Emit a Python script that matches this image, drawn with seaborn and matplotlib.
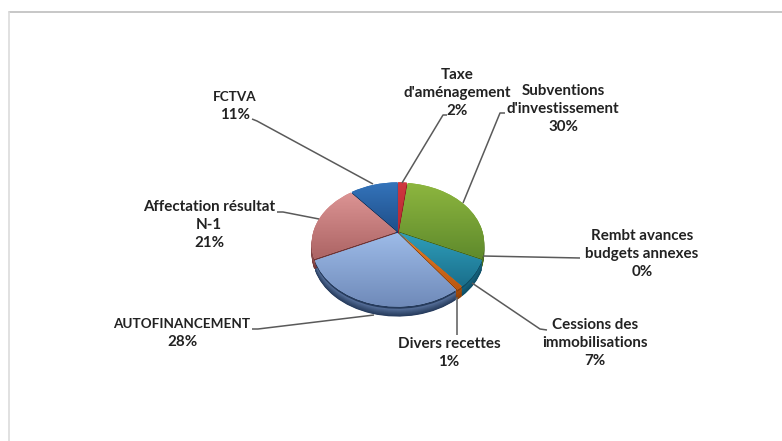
import numpy as np
import matplotlib
matplotlib.use("Agg")
import matplotlib.pyplot as plt
from matplotlib.colors import to_rgb
from matplotlib.transforms import Transform
import seaborn as sns

categories = ["Taxe\nd'aménagement", "Subventions\nd'investissement", "Rembt avances\nbudgets annexes",
              "Cessions des\nimmobilisations", "Divers recettes", "AUTOFINANCEMENT",
              "Affectation résultat\nN-1", "FCTVA"]
values = [2, 30, 0, 7, 1, 28, 21, 11]
top_colors = ["#d0383f", "#8db63f", "#2f9fbb", "#2f9fbb", "#e8822a", "#9dbbe8", "#dc9494", "#3474bb"]
low_colors = ["#b52a33", "#5f8a2c", "#1a6f8c", "#1a6f8c", "#b9560f", "#6f8ab9", "#ac6464", "#1f4f8a"]
side_colors = ["#7a1a20", "#46661c", "#0f4e66", "#0f4e66", "#8a3f08", "#263b5c", "#6e3535", "#122f57"]
label_xy = [(457, 93), (563, 109), (642, 254), (595, 343), (449, 353), (182, 333), (209, 225), (235, 106)]
leaders = [[(402, 183), (443, 115), (447, 115)],
           [(463, 203), (500, 113), (505, 113)],
           [(483, 256), (580, 258)],
           [(472, 283), (540, 329), (547, 330)],
           [(457, 297), (457, 335)],
           [(374, 315), (258, 329), (252, 329)],
           [(319, 219), (283, 212), (277, 212)],
           [(373, 184), (257, 121), (252, 119)]]

CX, CY, R, S, K = 398, 232, 83.3, 58.6, 0.197
DEPTH = 10
LINE_STEP = 18
BODY_SIZE, CAPS_SIZE = 10.9, 9.7


class Perspective(Transform):
    input_dims = output_dims = 2

    def __init__(self, shift=0.0):
        super().__init__()
        self.shift = shift

    def transform_non_affine(self, xy):
        xy = np.asarray(xy, float)
        w = 1 + K * xy[:, 1]
        return np.column_stack([CX + R * xy[:, 0] / w, CY - S * xy[:, 1] / w + self.shift])


sns.set_theme(style="white")
plt.rcParams["font.family"] = ["Lato", "DejaVu Sans"]
fig = plt.figure(figsize=(7.82, 4.41), dpi=100)
ax = fig.add_axes([0, 0, 1, 1])

explode = [0.018] * len(values)
wedges, _ = ax.pie(values, explode=explode, startangle=90, counterclock=False, radius=1, normalize=True)
ax.set_aspect("auto")
ax.set_xlim(0, 782)
ax.set_ylim(441, 0)
ax.axis("off")


def shifted(w, shift, color, z):
    theta1, theta2 = w.theta1, w.theta2
    c = ax.pie([1], startangle=0, radius=1)[0][0]
    c.set_center(w.center)
    c.set_theta1(theta1)
    c.set_theta2(theta2)
    c.set_facecolor(color)
    c.set_edgecolor("none")
    c.set_linewidth(0)
    c.set_zorder(z)
    c.set_transform(Perspective(shift) + ax.transData)
    return c


# extruded side, stacked from the bottom edge to the rim
for i, w in enumerate(wedges):
    if values[i] == 0:
        continue
    dark = np.array(to_rgb(side_colors[i]))
    mid = np.array(to_rgb(low_colors[i]))
    for d in np.arange(DEPTH, 0, -0.5):
        t = (d / DEPTH) ** 0.8
        shifted(w, d, tuple(mid * (1 - t) + dark * t), 1)
    shifted(w, 2.2, side_colors[i], 2)

# top faces with a vertical gradient
for i, w in enumerate(wedges):
    if values[i] == 0:
        w.set_visible(False)
        continue
    w.set_transform(Perspective() + ax.transData)
    w.set_facecolor(top_colors[i])
    w.set_edgecolor("none")
    w.set_zorder(3)
    a, b = np.array(to_rgb(top_colors[i])), np.array(to_rgb(low_colors[i]))
    grad = np.linspace(0, 1, 128)[:, None, None]
    img = a[None, None, :] * (1 - grad) + b[None, None, :] * grad
    ext = w.get_transform().transform_path(w.get_path()).get_extents().transformed(ax.transData.inverted())
    im = ax.imshow(img, extent=(ext.x0, ext.x1, ext.y1, ext.y0), aspect="auto", zorder=4, interpolation="bilinear")
    im.set_clip_path(w)

ax.set_aspect("auto")
ax.set_xlim(0, 782)
ax.set_ylim(441, 0)

for pts in leaders:
    xs, ys = zip(*pts)
    ax.plot(xs, ys, color="#5a5a5a", lw=1.1, zorder=5, solid_capstyle="butt")

for name, val, (x, y) in zip(categories, values, label_xy):
    lines = name.split("\n") + [f"{val}%"]
    y0 = y - LINE_STEP * (len(lines) - 1) / 2
    for j, line in enumerate(lines):
        fs = CAPS_SIZE if (line.isalpha() and line.isupper()) else BODY_SIZE
        ax.text(x, y0 + j * LINE_STEP, line, ha="center", va="center", fontsize=fs, fontweight="bold",
                color="#222222", zorder=6)

ax.plot([9, 782], [12, 12], color="#bdbdbd", lw=1.2, zorder=0)
ax.plot([9, 9], [12, 441], color="#dcdcdc", lw=1.2, zorder=0)

fig.savefig("out.png", dpi=100, facecolor="white")
